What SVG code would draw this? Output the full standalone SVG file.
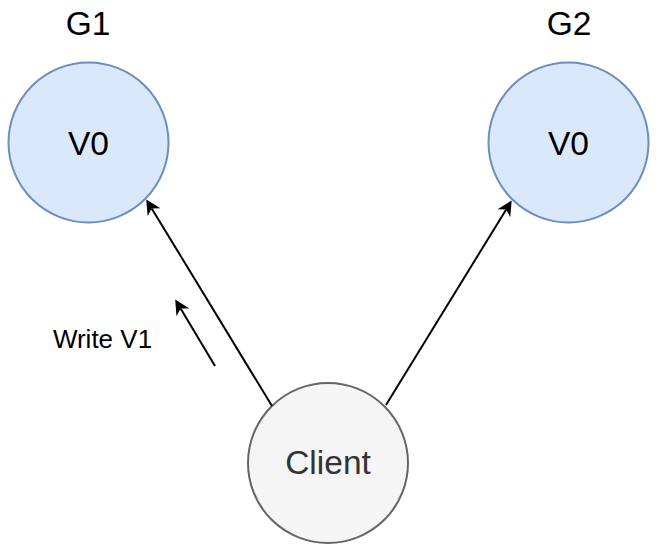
<svg xmlns="http://www.w3.org/2000/svg" width="662" height="554" viewBox="0 0 662 554">
<style>
  .bg{fill:#ffffff}
  .node{fill:#dae8fc;stroke:#6c8ebf;stroke-width:2}
  .client{fill:#f5f5f5;stroke:#666666;stroke-width:2}
  .big{font-family:"Liberation Sans",Arial,sans-serif;font-size:33.5px;fill:#000000;text-anchor:middle}
  .ctext{font-family:"Liberation Sans",Arial,sans-serif;font-size:33.5px;fill:#333333;text-anchor:middle}
  .small{font-family:"Liberation Sans",Arial,sans-serif;font-size:26px;fill:#000000;text-anchor:middle}
  .edge{fill:none;stroke:#000000;stroke-width:2}
</style>
<defs>
  <marker id="arrow" markerUnits="userSpaceOnUse" markerWidth="18" markerHeight="18" refX="4.5" refY="7.5" orient="auto">
    <path d="M0,0 L15,7.5 L0,15 L4.5,7.5 Z" fill="#000000"/>
  </marker>
</defs>
<rect class="bg" x="0" y="0" width="662" height="554"/>
<g id="G1">
  <circle class="node" cx="88.5" cy="142.5" r="80"/>
  <text class="big" x="88" y="35">G1</text>
  <text class="big" x="88.5" y="155">V0</text>
</g>
<g id="G2">
  <circle class="node" cx="568.5" cy="142.5" r="80"/>
  <text class="big" x="569" y="35">G2</text>
  <text class="big" x="568.5" y="155">V0</text>
</g>
<g id="Client">
  <circle class="client" cx="328" cy="463" r="80"/>
  <text class="ctext" x="328" y="474">Client</text>
</g>
<g id="connectors">
  <line class="edge" x1="272" y1="406" x2="151.7" y2="208.4" marker-end="url(#arrow)"/>
  <line class="edge" x1="386" y1="405" x2="506.2" y2="209.4" marker-end="url(#arrow)"/>
  <line class="edge" x1="215" y1="366" x2="180.6" y2="308.5" marker-end="url(#arrow)"/>
  <text class="small" x="102.5" y="348">Write V1</text>
</g>
</svg>
